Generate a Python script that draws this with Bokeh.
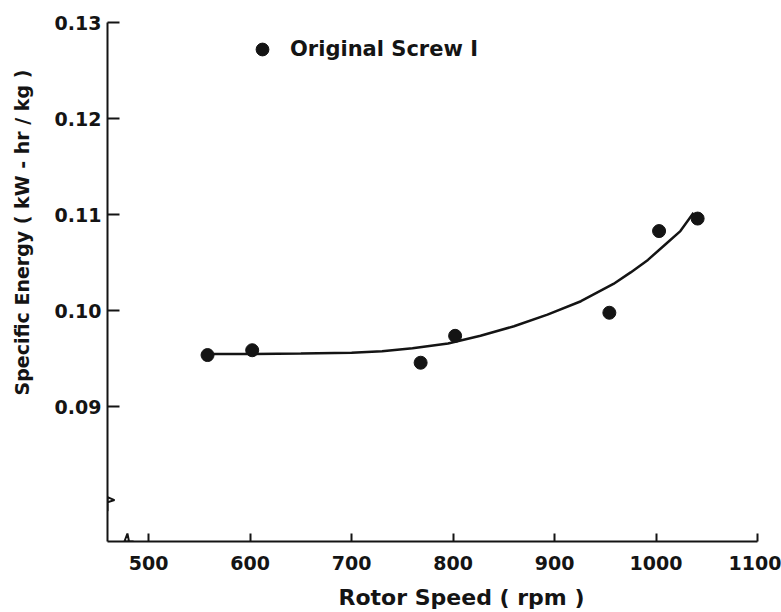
from bokeh.plotting import figure
from bokeh.models import (Range1d, FixedTicker, Legend, LegendItem, PolyAnnotation,
                          CustomJSTickFormatter, Title)
from bokeh.embed import file_html
from bokeh.resources import INLINE

# measured data points
rotor_speed = [558, 602, 768, 802, 954, 1003, 1041]
specific_energy = [0.0954, 0.0959, 0.0946, 0.0974, 0.0998, 0.1083, 0.1096]

# hand-drawn fit curve
fit_speed = [564, 600, 650, 700, 730, 760, 795, 827, 860, 893, 926, 958, 975, 992, 1008, 1024, 1037]
fit_energy = [0.09550, 0.09550, 0.09555, 0.09565, 0.09580, 0.09610, 0.09660, 0.09740, 0.09840,
              0.09960, 0.10100, 0.10280, 0.10400, 0.10530, 0.10680, 0.10830, 0.11020]

x_ticks = [500, 600, 700, 800, 900, 1000, 1100]
y_ticks = [0.09, 0.10, 0.11, 0.12, 0.13]

X_MIN, X_MAX = 459.4, 1100
Y_MIN, Y_MAX = 0.0760, 0.1300
X_BREAK = 481
Y_BREAK = 0.0800

INK = "#141414"
FONT = "DejaVu Sans"

p = figure(width=781, height=612, output_backend="svg", toolbar_location=None,
           x_range=Range1d(X_MIN, X_MAX), y_range=Range1d(Y_MIN, Y_MAX),
           min_border_left=107, min_border_right=24, min_border_top=22, min_border_bottom=71)
p.outline_line_color = None
p.grid.grid_line_color = None
p.background_fill_color = "white"
p.border_fill_color = "white"

for ax in (p.xaxis[0], p.yaxis[0]):
    ax.axis_line_color = INK
    ax.axis_line_width = 2
    ax.major_tick_line_color = INK
    ax.major_tick_line_width = 2
    ax.minor_tick_line_color = None
    ax.major_tick_out = 0
    ax.major_label_text_font = FONT
    ax.major_label_text_font_style = "bold"
    ax.major_label_text_font_size = "19px"
    ax.major_label_text_color = INK

p.xaxis.ticker = FixedTicker(ticks=x_ticks)
p.xaxis.major_tick_in = 8
p.xaxis.major_label_standoff = 14

p.yaxis.ticker = FixedTicker(ticks=y_ticks)
p.yaxis.major_tick_in = 12
p.yaxis.major_label_standoff = 6
p.yaxis.formatter = CustomJSTickFormatter(code="return tick.toFixed(2);")

# axis titles, placed like the original (not centred on the frame)
p.add_layout(Title(text="Rotor Speed ( rpm )", align="left", offset=231, standoff=0,
                   padding=dict(top=10, bottom=0, left=0, right=0),
                   text_font=FONT, text_font_style="bold", text_font_size="22px",
                   text_color=INK), "below")
p.add_layout(Title(text="Specific Energy ( kW - hr / kg )", align="left", offset=146,
                   standoff=0, padding=dict(top=0, bottom=19, left=0, right=0),
                   text_font=FONT, text_font_style="bold",
                   text_font_size="19px", text_color=INK), "left")

p.line(fit_speed, fit_energy, line_color=INK, line_width=2.5)
pts = p.scatter(rotor_speed, specific_energy, size=13, marker="circle",
                fill_color=INK, line_color=INK)

# axis break marks
px = (X_MAX - X_MIN) / 650.0
py = (Y_MAX - Y_MIN) / 519.0
p.add_layout(PolyAnnotation(
    xs=[X_BREAK - 5 * px, X_BREAK - 2 * px, X_BREAK + 1 * px, X_BREAK + 4 * px],
    ys=[Y_MIN, Y_MIN + 8 * py, Y_MIN - 7 * py, Y_MIN],
    fill_alpha=0, line_color=INK, line_alpha=1, line_width=2))
p.add_layout(PolyAnnotation(
    xs=[X_MIN, X_MIN + 7 * px, X_MIN - 8 * px, X_MIN],
    ys=[Y_BREAK + 6 * py, Y_BREAK + 3 * py, Y_BREAK - 2 * py, Y_BREAK - 8 * py],
    fill_alpha=0, line_color=INK, line_alpha=1, line_width=2))

legend = Legend(items=[LegendItem(label="Original Screw I", renderers=[pts])],
                location=(139, 476), padding=0, margin=0,
                border_line_color=None, background_fill_alpha=0,
                glyph_width=32, glyph_height=32, label_standoff=12,
                label_text_font=FONT, label_text_font_style="bold",
                label_text_font_size="21px", label_text_color=INK)
p.add_layout(legend)

open("out.html", "w").write(file_html(p, INLINE))
